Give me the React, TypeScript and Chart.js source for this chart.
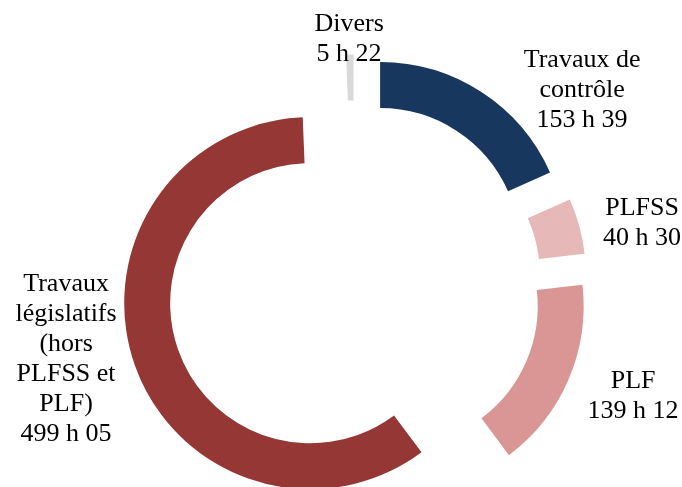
import React, { useEffect, useRef } from 'react';
import { Chart, registerables } from 'chart.js';

Chart.register(...registerables);

// Categories (multi-line label text), in clockwise order from 12 o'clock
const categories: string[][] = [
  ['Travaux de', 'contrôle'],
  ['PLFSS'],
  ['PLF'],
  ['Travaux', 'législatifs', '(hors', 'PLFSS et', 'PLF)'],
  ['Divers'],
];
// Durations: hours and minutes
const hours = [153, 40, 139, 499, 5];
const minutes = [39, 30, 12, 5, 22];

const colors = ['#17375E', '#E6B9B8', '#D99694', '#953735', '#D9D9D9'];

const durationMinutes = hours.map((h, i) => h * 60 + minutes[i]);
const valueLabels = hours.map((h, i) => `${h} h ${String(minutes[i]).padStart(2, '0')}`);

// Label anchors (x centre, first baseline) relative to the chart centre
const labelAnchors: number[][] = [
  [227.6, -220.1],
  [287.6, -72.4],
  [278.6, 100.3],
  [-288.4, 3.3],
  [-5.4, -256.7],
];

const EXPLODE = 47;
const LINE_HEIGHT = 30;

const explodePlugin = {
  id: 'explodeSlices',
  beforeDatasetDraw(chart: any, args: any) {
    const ctx = chart.ctx;
    args.meta.data.forEach((arc: any) => {
      const mid = (arc.startAngle + arc.endAngle) / 2;
      ctx.save();
      ctx.translate(Math.cos(mid) * EXPLODE, Math.sin(mid) * EXPLODE);
      arc.draw(ctx);
      ctx.restore();
    });
    return false;
  },
};

const labelPlugin = {
  id: 'sliceLabels',
  afterDraw(chart: any) {
    const ctx = chart.ctx;
    const meta = chart.getDatasetMeta(0);
    const first = meta.data[0];
    if (!first) return;
    const cx = first.x;
    const cy = first.y;
    ctx.save();
    ctx.font = '26px "Liberation Serif", "Times New Roman", serif';
    ctx.fillStyle = '#000000';
    ctx.textAlign = 'center';
    ctx.textBaseline = 'alphabetic';
    categories.forEach((lines, i) => {
      const all = [...lines, valueLabels[i]];
      const [dx, dy] = labelAnchors[i];
      all.forEach((t, j) => {
        ctx.fillText(t, cx + dx, cy + dy + j * LINE_HEIGHT);
      });
    });
    ctx.restore();
  },
};

export default function App() {
  const canvasRef = useRef<HTMLCanvasElement | null>(null);

  useEffect(() => {
    document.body.style.margin = '0';
    const canvas = canvasRef.current;
    if (!canvas) return;
    const chart = new Chart(canvas, {
      type: 'doughnut',
      data: {
        labels: categories.map((c) => c.join(' ')),
        datasets: [
          {
            data: durationMinutes,
            backgroundColor: colors,
            borderWidth: 0,
            offset: 0,
            hoverOffset: 0,
          },
        ],
      },
      options: {
        responsive: false,
        animation: false,
        radius: 186,
        cutout: '75.3%',
        rotation: 0,
        layout: { padding: { left: 27, right: 0, top: 88, bottom: 0 } },
        plugins: {
          legend: { display: false },
          tooltip: { enabled: false },
          title: { display: false },
        },
        events: [],
      } as any,
      plugins: [explodePlugin, labelPlugin],
    });
    return () => chart.destroy();
  }, []);

  return (
    <div style={{ width: 682, height: 487, background: '#ffffff' }}>
      <canvas ref={canvasRef} width={682} height={487} style={{ display: 'block' }} />
    </div>
  );
}
